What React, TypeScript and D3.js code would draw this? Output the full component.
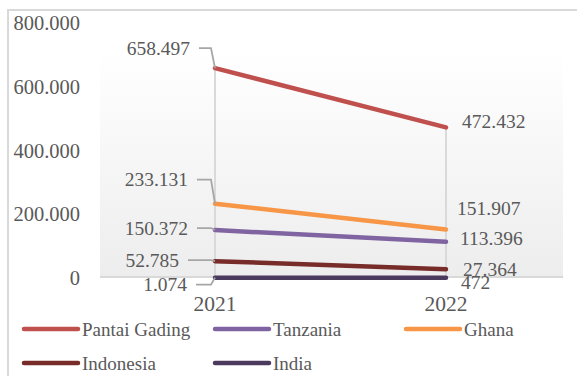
import React from "react";
import * as d3 from "d3";

const years = ["2021", "2022"];
const seriesNames = ["Pantai Gading", "Tanzania", "Ghana", "Indonesia", "India"];
const pantaiGading = [658497, 472432];
const tanzania = [150372, 113396];
const ghana = [233131, 151907];
const indonesia = [52785, 27364];
const india = [1074, 472];
const yTicks = [0, 200000, 400000, 600000, 800000];
const colors = ["#c0504d", "#8064a2", "#f79646", "#772c2a", "#4b3a5e"];

const allValues = [pantaiGading, tanzania, ghana, indonesia, india];

// label layout offsets (pixels) relative to each data point
const leftLabelDy = [-20, -2, -24, -1, 7];
const leftLabelRight = [190, 188, 188, 179, 187];
const rightLabelDy = [-6, -3, -21, 0, 5];
const rightLabelDx = [16, 14, 11, 17, 15];

const fmt = (v: number) => {
  const s = Math.round(v).toString();
  return s.replace(/\B(?=(\d{3})+(?!\d))/g, ".");
};

export default function App() {
  const W = 577;
  const H = 376;
  const x = d3.scalePoint<string>().domain(years).range([215, 446]);
  const y = d3.scaleLinear().domain([0, 800000]).range([278, 23]);
  const line = d3
    .line<number>()
    .x((_, i) => x(years[i]) as number)
    .y((d) => y(d));
  const font = "Liberation Serif, Times New Roman, DejaVu Serif, serif";
  const textColor = "#595959";
  const floorY = y(0) - 1;
  const legendRows = [
    { y: 329, items: [0, 1, 2] },
    { y: 363, items: [3, 4] },
  ];
  const legendX = [24, 215, 406];

  return (
    <svg
      width={W}
      height={H}
      style={{ position: "absolute", left: 0, top: 0, background: "#fff", fontFamily: font }}
    >
      <defs>
        <linearGradient id="bg" x1="0" y1="0" x2="0" y2="1">
          <stop offset="0" stopColor="#ffffff" />
          <stop offset="1" stopColor="#ededed" />
        </linearGradient>
      </defs>
      <rect x={8} y={10} width={W + 10} height={H + 10} fill="none" stroke="#d9d9d9" strokeWidth={2} />
      <rect x={100} y={52} width={463} height={floorY - 52} fill="url(#bg)" />
      <line x1={100} x2={563} y1={floorY} y2={floorY} stroke="#d9d9d9" strokeWidth={2} />
      {years.map((yr, i) => {
        const top = d3.max(allValues, (s) => s[i]) as number;
        return (
          <line
            key={yr}
            x1={x(yr)}
            x2={x(yr)}
            y1={y(top)}
            y2={floorY}
            stroke="#d9d9d9"
            strokeWidth={2}
          />
        );
      })}
      {yTicks.map((t) => (
        <text
          key={t}
          x={80}
          y={y(t) + 7}
          textAnchor="end"
          fontSize={20.5}
          fill={textColor}
        >
          {fmt(t)}
        </text>
      ))}
      {years.map((yr) => (
        <text key={yr} x={x(yr)} y={311} textAnchor="middle" fontSize={21.5} fill={textColor}>
          {yr}
        </text>
      ))}
      {allValues.map((vals, si) => (
        <path
          key={si}
          d={line(vals) as string}
          fill="none"
          stroke={colors[si]}
          strokeWidth={4.5}
          strokeLinecap="round"
        />
      ))}
      {allValues.map((vals, si) => {
        const px = x(years[0]) as number;
        const py = y(vals[0]);
        const ly = py + leftLabelDy[si];
        const labelRight = leftLabelRight[si];
        const leadStart = labelRight + 9;
        return (
          <g key={"l" + si}>
            <polyline
              points={`${leadStart},${ly} ${px - 4},${ly} ${px},${py}`}
              fill="none"
              stroke="#a6a6a6"
              strokeWidth={1.8}
            />
            <text x={labelRight} y={ly + 6.5} textAnchor="end" fontSize={19.5} fill={textColor}>
              {fmt(vals[0])}
            </text>
          </g>
        );
      })}
      {allValues.map((vals, si) => {
        const px = x(years[1]) as number;
        const py = y(vals[1]);
        return (
          <text
            key={"r" + si}
            x={px + rightLabelDx[si]}
            y={py + rightLabelDy[si] + 6.5}
            fontSize={19.5}
            fill={textColor}
          >
            {fmt(vals[1])}
          </text>
        );
      })}
      {legendRows.map((row) =>
        row.items.map((si, k) => (
          <g key={"lg" + si}>
            <line
              x1={legendX[k]}
              x2={legendX[k] + 54}
              y1={row.y}
              y2={row.y}
              stroke={colors[si]}
              strokeWidth={4.5}
              strokeLinecap="round"
            />
            <text x={legendX[k] + 58} y={row.y + 6.5} fontSize={19} fill={textColor}>
              {seriesNames[si]}
            </text>
          </g>
        ))
      )}
    </svg>
  );
}
